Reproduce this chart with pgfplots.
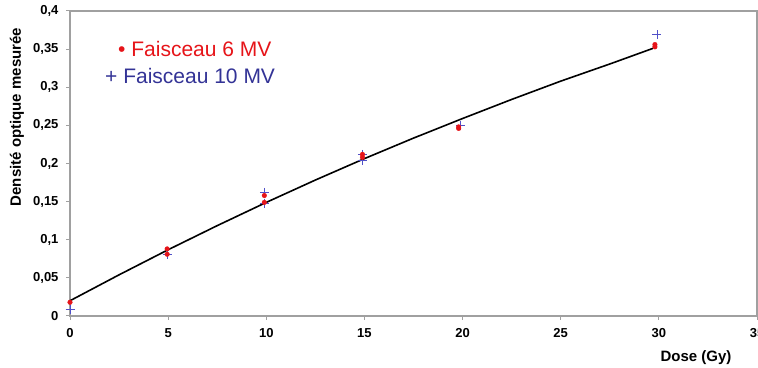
\documentclass[border=0pt]{standalone}
\usepackage{pgfplots}
\pgfplotsset{compat=1.18}
\usepackage{fontspec}
\setmainfont{Liberation Sans}
\definecolor{fred}{RGB}{230,20,25}
\definecolor{fblue}{RGB}{51,51,150}
\definecolor{cblue}{RGB}{80,80,200}
\definecolor{axgray}{RGB}{160,160,160}
\begin{document}
\begin{tikzpicture}[x=1pt,y=1pt]
\begin{axis}[
  at={(70pt,51pt)}, anchor=south west,
  scale only axis, width=687pt, height=305pt,
  xmin=0, xmax=35, ymin=0, ymax=0.4,
  xtick={0,5,...,35}, ytick={0,0.05,...,0.4},
  axis line style={axgray, line width=1.2pt},
  tick style={axgray, line width=1pt},
  tick align=outside, major tick length=4pt,
  xtick pos=bottom, ytick pos=left,
  /pgf/number format/assume math mode=true,
  /pgf/number format/use comma,
  /pgf/number format/fixed,
  /pgf/number format/precision=2,
  ticklabel style={font=\fontsize{13}{15}\selectfont\bfseries, black},
  xticklabel style={yshift=-5pt},
  yticklabel style={xshift=-4pt},
  clip=false,
]
\addplot[black, line width=1.6pt] coordinates {
 (0,0.020) (2.5,0.054) (5,0.0869) (7.5,0.1185) (10,0.149) (12.5,0.1783)
 (15,0.2064) (17.5,0.2333) (20,0.2590) (22.5,0.2840) (25,0.3080)
 (27.5,0.3305) (29.7,0.3510)
};
\addplot[only marks, mark=+, mark size=4.5pt, cblue, line width=0.7pt] coordinates {
 (0,0.009) (4.95,0.081) (9.9,0.162) (9.9,0.148) (14.9,0.212) (14.9,0.204)
 (19.9,0.250) (29.9,0.369)
};
\addplot[only marks, mark=*, mark size=2.3pt, fred, draw=fred] coordinates {
 (0,0.018) (4.95,0.088) (4.95,0.081) (9.9,0.158) (9.9,0.149)
 (14.9,0.212) (14.9,0.208) (19.8,0.248) (19.8,0.246) (29.8,0.356) (29.8,0.353)
};
\end{axis}
\node[anchor=base west, fred, font=\fontsize{21}{24}\selectfont, inner sep=0pt] at (118pt,310.3pt) {\textbullet\ Faisceau 6 MV};
\node[anchor=base west, fblue, font=\fontsize{21}{24}\selectfont, inner sep=0pt] at (105pt,283.7pt) {+ Faisceau 10 MV};
\node[rotate=90, font=\fontsize{15}{17}\selectfont\bfseries, inner sep=0pt] at (17pt,250pt) {Densité optique mesurée};
\node[font=\fontsize{15}{17}\selectfont\bfseries, inner sep=0pt] at (696pt,9pt) {Dose (Gy)};
\pgfresetboundingbox
\useasboundingbox (0,0) rectangle (758pt,367pt);
\end{tikzpicture}
\end{document}
